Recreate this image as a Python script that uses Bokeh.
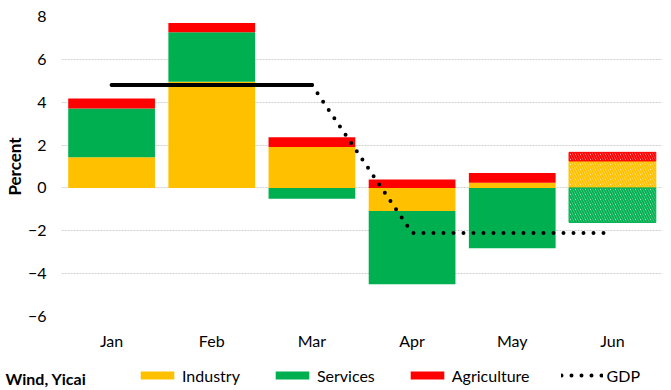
from bokeh.plotting import figure
from bokeh.layouts import column
from bokeh.models import FactorRange, Range1d, FixedTicker, Legend, LegendItem, Label
from bokeh.embed import file_html
from bokeh.resources import INLINE

months = ["Jan", "Feb", "Mar", "Apr", "May", "Jun"]
industry = [1.43, 4.96, 1.91, -1.08, 0.24, 1.26]
services = [2.28, 2.31, -0.51, -3.42, -2.82, -1.61]
agriculture = [0.46, 0.43, 0.46, 0.39, 0.46, 0.40]
gdp = [4.8, 4.8, 4.8, -2.1, -2.1, -2.1]
y_ticks = [-6, -4, -2, 0, 2, 4, 6, 8]
source_text = "Wind, Yicai"

series = [("Industry", industry, "#FFC000"),
          ("Services", services, "#00B050"),
          ("Agriculture", agriculture, "#FF0000")]

FONT = "Lato"
W = 671
H_MAIN = 352
H_LEG = 38

p = figure(width=W, height=H_MAIN,
           x_range=FactorRange(*months, range_padding=0),
           y_range=Range1d(-6, 8),
           output_backend="svg", toolbar_location=None,
           min_border_left=59, min_border_right=9,
           min_border_top=16, min_border_bottom=35)
p.frame_align = False
p.outline_line_color = None

# stacking (positive up, negative down, in series order)
pos = [0.0] * len(months)
neg = [0.0] * len(months)
solid_n = 5  # last month (Jun) is drawn hatched
for name, vals, color in series:
    bottoms, tops = [], []
    for i, v in enumerate(vals):
        if v >= 0:
            b = pos[i]; pos[i] = b + v
        else:
            b = neg[i]; neg[i] = b + v
        bottoms.append(b); tops.append(b + v)
    p.vbar(x=months[:solid_n], bottom=bottoms[:solid_n], top=tops[:solid_n],
           width=0.866, fill_color=color, line_color=None)
    p.vbar(x=months[solid_n:], bottom=bottoms[solid_n:], top=tops[solid_n:],
           width=0.866, fill_color="white", line_color=color, line_width=1,
           hatch_pattern="\\", hatch_color=color, hatch_scale=5, hatch_weight=2)

# GDP: solid for Jan-Mar, dotted afterwards
p.line(x=months[:3], y=gdp[:3], line_color="black", line_width=4, line_cap="round")
p.line(x=months[2:], y=gdp[2:], line_color="black", line_width=4,
       line_cap="round", line_dash="0 10")

# axes
p.xaxis.axis_line_color = None
p.xaxis.major_tick_line_color = None
p.xaxis.minor_tick_line_color = None
p.xaxis.major_tick_out = 0
p.xaxis.major_label_standoff = 14
p.xaxis.major_label_text_font = FONT
p.xaxis.major_label_text_font_size = "16px"
p.xaxis.major_label_text_color = "#000000"

p.yaxis.ticker = FixedTicker(ticks=y_ticks)
p.yaxis.axis_line_color = None
p.yaxis.major_tick_line_color = None
p.yaxis.minor_tick_line_color = None
p.yaxis.major_tick_out = 0
p.yaxis.major_tick_in = 0
p.yaxis.major_label_standoff = 15
p.yaxis.major_label_text_font = FONT
p.yaxis.major_label_text_font_size = "16px"
p.yaxis.major_label_text_color = "#000000"
p.yaxis.axis_label = "Percent"
p.yaxis.axis_label_standoff = 0
p.yaxis.axis_label_text_font = FONT
p.yaxis.axis_label_text_font_size = "17px"
p.yaxis.axis_label_text_font_style = "bold"
p.yaxis.axis_label_text_color = "#000000"

p.xgrid.grid_line_color = None
p.ygrid.grid_line_color = "#d0d0d0"
p.ygrid.grid_line_dash = "2 1"
p.ygrid.grid_line_width = 1

# legend strip (same styles as the chart's series; sample glyphs lie outside the view)
q = figure(width=W, height=H_LEG, x_range=Range1d(0, W), y_range=Range1d(0, H_LEG),
           output_backend="svg", toolbar_location=None,
           x_axis_type=None, y_axis_type=None,
           min_border_left=0, min_border_right=0, min_border_top=0, min_border_bottom=0)
q.frame_align = False
q.outline_line_color = None
q.xgrid.visible = False
q.ygrid.visible = False
items = []
for name, vals, color in series:
    r = q.vbar(x=[-50], bottom=[-50], top=[-49], width=1, fill_color=color, line_color=None)
    items.append(LegendItem(label=name, renderers=[r]))
rl = q.line(x=[-60, -50], y=[-50, -50], line_color="black", line_width=4,
            line_cap="round", line_dash="0 10")
items.append(LegendItem(label="GDP", renderers=[rl]))

legend = Legend(items=items, orientation="horizontal", location=(136, 5),
                glyph_width=42, glyph_height=10, label_standoff=4, spacing=31,
                padding=0, margin=0, border_line_color=None, background_fill_alpha=0,
                label_text_font=FONT, label_text_font_size="16px",
                label_text_color="#000000", label_height=20)
q.add_layout(legend, "center")
q.add_layout(Label(x=5, y=12, x_units="screen", y_units="screen", text=source_text,
                   text_font=FONT, text_font_size="16px", text_font_style="bold",
                   text_baseline="middle", text_color="#000000"))

layout = column(p, q, spacing=0)
open("out.html", "w").write(file_html(layout, INLINE))
